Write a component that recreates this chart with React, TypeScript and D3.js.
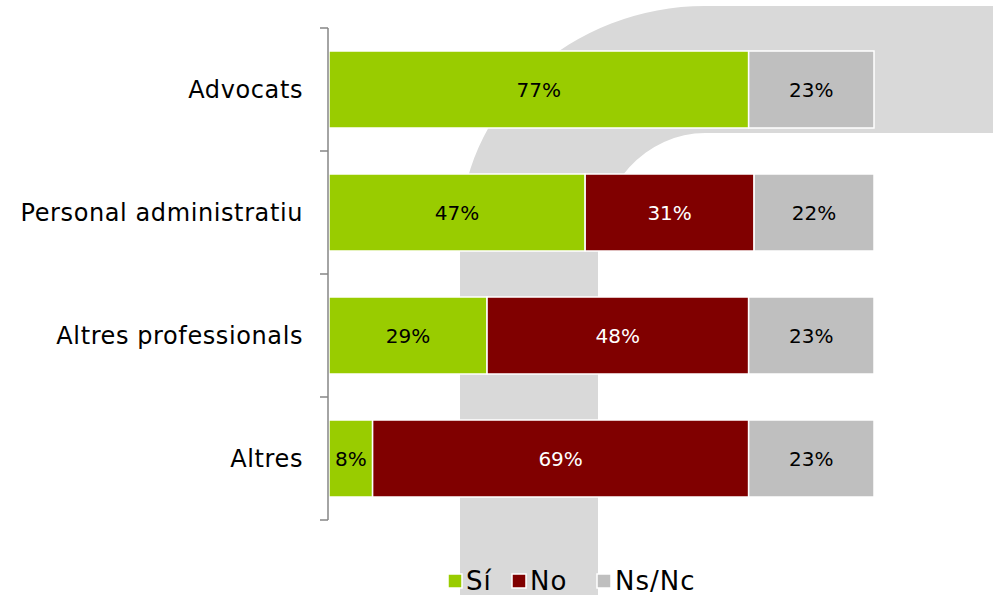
import React from "react";
import * as d3 from "d3";

const categories = ["Advocats", "Personal administratiu", "Altres professionals", "Altres"];
const seriesNames = ["Sí", "No", "Ns/Nc"];
const si = [77, 47, 29, 8];
const no = [0, 31, 48, 69];
const nsnc = [23, 22, 23, 23];
const colors = ["#99cc00", "#800000", "#bfbfbf"];
const labelColors = ["#000000", "#ffffff", "#000000"];

const W = 993;
const H = 595;
const FONT = "'DejaVu Sans', sans-serif";

export default function App() {
  const x = d3.scaleLinear().domain([0, 100]).range([329, 874]);
  const y = d3
    .scaleBand<string>()
    .domain(categories)
    .range([28, 520])
    .paddingInner(0.374)
    .paddingOuter(0.187);

  const rows = categories.map((c, i) => ({ cat: c, vals: [si[i], no[i], nsnc[i]] }));
  const stacked = rows.map((r) => {
    let acc = 0;
    return r.vals.map((v, k) => {
      const s = { x0: acc, x1: acc + v, v, k };
      acc += v;
      return s;
    });
  });

  const tickYs = [28, ...categories.map((c) => (y(c) as number) + y.bandwidth() + (y.step() - y.bandwidth()) / 2)];

  const cx = 705;
  const wmPath =
    `M 460 600 L 460 235 A 245 229 0 0 1 ${cx} 6 L 993 6 L 993 133 L ${cx} 133 ` +
    `A 107 117 0 0 0 598 250 L 598 600 Z`;

  const legendItems = [
    { x: 448, tx: 466 },
    { x: 512, tx: 530 },
    { x: 597, tx: 615 },
  ];

  return (
    <svg width={W} height={H} style={{ position: "absolute", left: 0, top: 0 }}>
      <rect x={0} y={0} width={W} height={H} fill="#ffffff" />
      <path d={wmPath} fill="#d9d9d9" />
      {stacked.map((segs, i) =>
        segs
          .filter((s) => s.v > 0)
          .map((s) => {
            const x0 = x(s.x0);
            const x1 = x(s.x1);
            const yy = y(categories[i]) as number;
            return (
              <g key={`${i}-${s.k}`}>
                <rect
                  x={x0}
                  y={yy}
                  width={x1 - x0}
                  height={y.bandwidth()}
                  fill={colors[s.k]}
                  stroke="#ffffff"
                  strokeWidth={1.5}
                />
                <text
                  x={(x0 + x1) / 2}
                  y={yy + y.bandwidth() / 2}
                  textAnchor="middle"
                  dominantBaseline="central"
                  fontFamily={FONT}
                  fontSize={20}
                  fill={labelColors[s.k]}
                >
                  {s.v}%
                </text>
              </g>
            );
          })
      )}
      <line x1={328} x2={328} y1={28} y2={520} stroke="#868686" strokeWidth={1.5} />
      {tickYs.map((t, i) => (
        <line key={i} x1={320} x2={328} y1={t} y2={t} stroke="#868686" strokeWidth={1.5} />
      ))}
      {categories.map((c) => (
        <text
          key={c}
          x={303}
          y={(y(c) as number) + y.bandwidth() / 2}
          textAnchor="end"
          dominantBaseline="central"
          fontFamily={FONT}
          fontSize={24}
          letterSpacing={0.6}
          fill="#000000"
        >
          {c}
        </text>
      ))}
      {seriesNames.map((n, k) => (
        <g key={n}>
          <rect
            x={legendItems[k].x}
            y={574}
            width={14}
            height={14}
            fill={colors[k]}
            stroke="#ffffff"
            strokeWidth={1.5}
          />
          <text
            x={legendItems[k].tx}
            y={581}
            dominantBaseline="central"
            fontFamily={FONT}
            fontSize={26}
            letterSpacing={1}
            fill="#000000"
          >
            {n}
          </text>
        </g>
      ))}
    </svg>
  );
}
